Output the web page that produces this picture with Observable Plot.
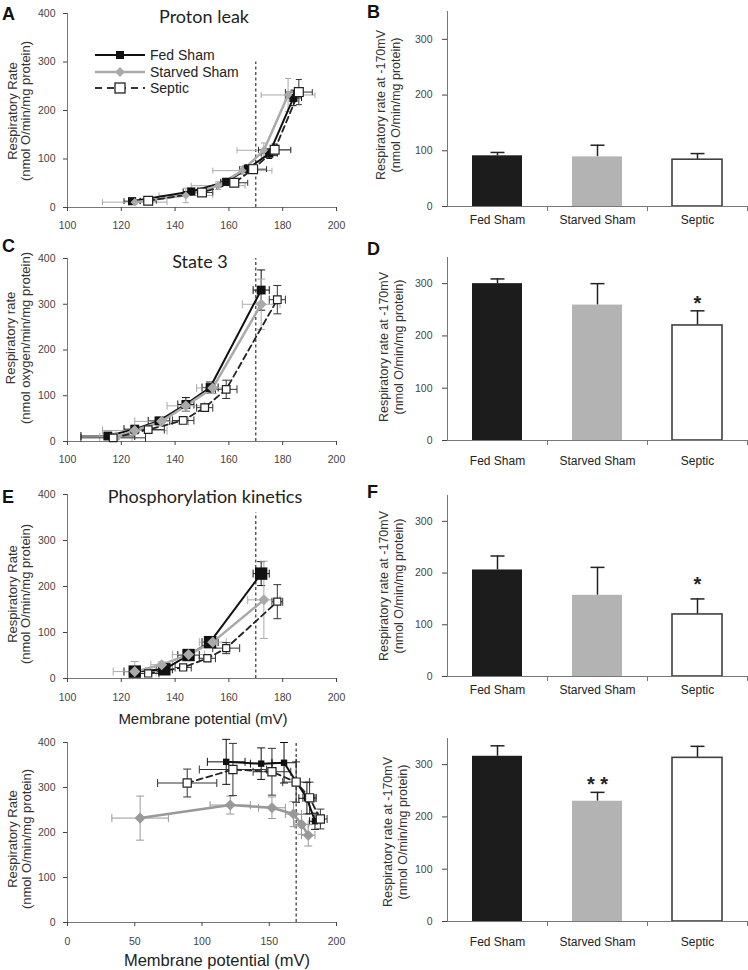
<!DOCTYPE html>
<html><head><meta charset="utf-8">
<script src="https://cdn.jsdelivr.net/npm/d3@7"></script>
<script src="https://cdn.jsdelivr.net/npm/@observablehq/plot@0.6"></script>
<style>
body{margin:0;background:#fff;}
#fig{position:relative;width:748px;height:970px;overflow:hidden;background:#fff;}
#over{position:absolute;left:0;top:0;pointer-events:none;}
</style></head><body><div id="fig"></div>
<script>
// ---------- data ----------
const groups = ["Fed Sham", "Starved Sham", "Septic"];

// Panel A – proton leak
const aFedX = [124, 146, 159, 167, 175, 184];
const aFedY = [13, 33, 53, 80, 111, 226];
const aFedXErr = [3, 3, 2, 2, 3, 3];
const aFedYErr = [5, 5, 6, 8, 10, 16];
const aStaX = [125, 144, 156, 165, 173, 182];
const aStaY = [11, 25, 45, 76, 118, 232];
const aStaXErr = [12, 10, 10, 11, 10, 10];
const aStaYErr = [4, 15, 8, 8, 15, 34];
const aSepX = [130, 150, 162, 169, 177, 186];
const aSepY = [14, 31, 51, 79, 119, 238];
const aSepXErr = [3, 4, 5, 5, 6, 5];
const aSepYErr = [3, 5, 6, 8, 12, 26];

// Panel C – state 3
const cFedX = [115, 125, 134, 144, 153, 172];
const cFedY = [12, 27, 45, 81, 118, 331];
const cFedXErr = [10, 4, 4, 3, 3, 3];
const cFedYErr = [5, 8, 8, 15, 12, 44];
const cStaX = [118, 125, 135, 144, 154, 172];
const cStaY = [10, 24, 44, 78, 117, 300];
const cStaXErr = [6, 12, 10, 7, 6, 7];
const cStaYErr = [6, 8, 10, 12, 12, 55];
const cSepX = [117, 130, 143, 151, 159, 178];
const cSepY = [8, 26, 46, 74, 114, 310];
const cSepXErr = [12, 6, 4, 3, 4, 3];
const cSepYErr = [4, 6, 6, 8, 20, 31];

// Panel E – phosphorylation kinetics
const eFedX = [125, 136, 145, 153, 172];
const eFedY = [15, 20, 51, 79, 228];
const eFedXErr = [4, 3, 4, 3, 3];
const eFedYErr = [5, 6, 8, 10, 26];
const eStaX = [125, 135, 145, 154, 173];
const eStaY = [15, 30, 52, 79, 171];
const eStaXErr = [8, 4, 6, 5, 6];
const eStaYErr = [22, 6, 8, 12, 84];
const eSepX = [130, 143, 152, 159, 178];
const eSepY = [11, 24, 44, 66, 167];
const eSepXErr = [4, 3, 3, 5, 2];
const eSepYErr = [3, 5, 6, 12, 37];

// Bottom-left panel
const gFedX = [118, 144, 161, 178, 184];
const gFedY = [357, 353, 355, 276, 225];
const gFedXErr = [14, 8, 9, 6, 4];
const gFedYErr = [50, 35, 45, 35, 18];
const gStaX = [54, 121, 152, 168, 174, 179];
const gStaY = [232, 261, 255, 241, 218, 194];
const gStaXErr = [21, 15, 10, 6, 5, 5];
const gStaYErr = [49, 20, 24, 28, 22, 24];
const gSepX = [89, 123, 152, 170, 180, 188];
const gSepY = [310, 340, 335, 312, 277, 230];
const gSepXErr = [22, 25, 14, 10, 5, 5];
const gSepYErr = [31, 58, 52, 45, 35, 22];

// reference line at -170 mV (x) and its top (y)
const refMV = 170;
const refTop = {A: 300, C: 400, E: 360, G: 400};

// Bar panels: respiratory rate at -170 mV
const bMean = [91, 89, 84],   bErr = [6, 21, 11],  bSig = ["", "", ""];
const dMean = [300, 259, 220], dErr = [9, 41, 28], dSig = ["", "", "*"];
const fMean = [206, 157, 120], fErr = [27, 54, 30], fSig = ["", "", "*"];
const hMean = [316, 230, 313], hErr = [20, 17, 22], hSig = ["", "* *", ""];

// ticks
const yTicksLeft = [0, 100, 200, 300, 400];
const xTicksMV = [100, 120, 140, 160, 180, 200];
const xTicksG = [0, 50, 100, 150, 200];
const yTicksBar = [0, 100, 200, 300];

// ---------- helpers ----------
const FONT = '"Liberation Sans", Arial, Helvetica, sans-serif';
const fig = document.getElementById("fig");
const capH = {draw(ctx, size){const h = Math.sqrt(size / Math.PI); ctx.moveTo(-h, 0); ctx.lineTo(h, 0);}};
const capV = {draw(ctx, size){const h = Math.sqrt(size / Math.PI); ctx.moveTo(0, -h); ctx.lineTo(0, h);}};

function pts(xs, ys, xe, ye){ return xs.map((x, i) => ({x, y: ys[i], xe: xe[i], ye: ye[i]})); }

function place(el, left, top){
  el.style.position = "absolute"; el.style.left = left + "px"; el.style.top = top + "px";
  fig.appendChild(el);
}

function errMarks(data, color, cap){
  const o = {stroke: color, strokeWidth: 1};
  const lo = d => Math.max(0, d.y - d.ye);
  return [
    Plot.link(data, {x1: d => d.x - d.xe, x2: d => d.x + d.xe, y1: "y", y2: "y", ...o}),
    Plot.link(data, {x1: "x", x2: "x", y1: lo, y2: d => d.y + d.ye, ...o}),
    Plot.dot(data, {x: d => d.x - d.xe, y: "y", symbol: capV, r: cap, fill: "none", ...o}),
    Plot.dot(data, {x: d => d.x + d.xe, y: "y", symbol: capV, r: cap, fill: "none", ...o}),
    Plot.dot(data.filter(d => d.y - d.ye > 0), {x: "x", y: d => d.y - d.ye, symbol: capH, r: cap, fill: "none", ...o}),
    Plot.dot(data, {x: "x", y: d => d.y + d.ye, symbol: capH, r: cap, fill: "none", ...o})
  ];
}

function linePanel(cfg){
  const marks = [];
  marks.push(Plot.ruleY([0], {stroke: "#777"}));
  marks.push(Plot.ruleX([cfg.xDomain[0]], {stroke: "#777"}));
  marks.push(Plot.axisX({ticks: cfg.xTicks, tickSize: 4, tickPadding: cfg.tickPad, color: "#444", fontSize: 10.5, label: null}));
  marks.push(Plot.axisY({ticks: yTicksLeft, tickSize: 4, tickPadding: 8, color: "#444", fontSize: 10.5, label: null}));
  marks.push(Plot.ruleX([refMV], {y1: 0, y2: cfg.refTop, stroke: "#222", strokeWidth: 1.1, strokeDasharray: "3,2.5"}));
  cfg.series.forEach(s => marks.push(...errMarks(s.data, s.err, s.cap)));
  cfg.series.forEach(s => marks.push(Plot.line(s.data, {x: "x", y: "y", stroke: s.line, strokeWidth: s.lw, strokeDasharray: s.dash})));
  cfg.series.forEach(s => marks.push(Plot.dot(s.data, {x: "x", y: "y", symbol: s.symbol, r: s.r, fill: s.fill, stroke: s.stroke, strokeWidth: s.sw})));
  const el = Plot.plot({
    width: 350, height: cfg.height,
    marginLeft: 67, marginRight: 14, marginTop: cfg.mT, marginBottom: cfg.mB,
    x: {domain: cfg.xDomain}, y: {domain: [0, 400]},
    style: {fontFamily: FONT, fontSize: "10.5px", background: "none", overflow: "visible"},
    marks
  });
  place(el, 0, cfg.top);
}

function series(fed, sta, sep, sz, staCol){
  return [
    {data: fed, err: "#111", cap: sz.cap, line: "#111", lw: 2, dash: null, symbol: "square", r: sz.fed, fill: "#111", stroke: "none", sw: 0},
    {data: sta, err: staCol, cap: sz.cap, line: staCol, lw: 2.5, dash: null, symbol: "diamond2", r: sz.sta, fill: staCol, stroke: "none", sw: 0},
    {data: sep, err: "#333", cap: sz.cap, line: "#222", lw: 1.8, dash: "6,4", symbol: "square", r: sz.sep, fill: "#fff", stroke: "#222", sw: 1.2}
  ];
}

const barFill = ["#1c1c1c", "#b3b3b3", "#ffffff"];
const barStroke = ["none", "none", "#404040"];

function barPanel(cfg){
  const data = groups.map((g, i) => ({group: g, value: cfg.mean[i], err: cfg.err[i], sig: cfg.sig[i], fill: barFill[i], stroke: barStroke[i]}));
  const el = Plot.plot({
    width: 398, height: cfg.height,
    marginLeft: 97, marginRight: 1, marginTop: cfg.mT, marginBottom: cfg.mB,
    x: {domain: groups, paddingInner: 0.5, paddingOuter: 0.25},
    y: {domain: [0, 350]},
    style: {fontFamily: FONT, fontSize: "10.5px", background: "none", overflow: "visible"},
    marks: [
      Plot.ruleX(data, {x: "group", y1: "value", y2: d => d.value + d.err, stroke: "#222", strokeWidth: 1.5}),
      Plot.dot(data, {x: "group", y: d => d.value + d.err, symbol: capH, r: 7, stroke: "#222", strokeWidth: 1.5, fill: "none"}),
      Plot.barY(data, {x: "group", y: "value", fill: d => d.fill, stroke: d => d.stroke, strokeWidth: 1.6, inset: 0}),
      Plot.text(data, {x: "group", y: d => d.value + d.err, text: "sig", dy: cfg.sigDy, lineAnchor: "bottom", fontSize: 20, fontWeight: "bold", fill: "#222"}),
      Plot.frame({anchor: "left", stroke: "#777"}),
      Plot.ruleY([0], {stroke: "#777"}),
      Plot.axisY({ticks: yTicksBar, tickSize: 5, tickPadding: 10, color: "#444", fontSize: 10.5, label: null}),
      Plot.axisX({tickSize: 5, tickFormat: () => "", dx: 50, color: "#777", label: null}),
      Plot.axisX({tickSize: 0, tickPadding: cfg.labPad, color: "#222", fontSize: 12, label: null})
    ]
  });
  place(el, 350, cfg.top);
}

// ---------- left panels ----------
linePanel({top: 0, height: 240, mT: 13, mB: 33, tickPad: 10, xDomain: [100, 200], xTicks: xTicksMV, refTop: refTop.A,
  series: series(pts(aFedX, aFedY, aFedXErr, aFedYErr), pts(aStaX, aStaY, aStaXErr, aStaYErr), pts(aSepX, aSepY, aSepXErr, aSepYErr), {fed: 4.6, sta: 3.8, sep: 5, cap: 3}, "#aaaaaa")});
linePanel({top: 232, height: 240, mT: 26, mB: 31, tickPad: 10, xDomain: [100, 200], xTicks: xTicksMV, refTop: refTop.C,
  series: series(pts(cFedX, cFedY, cFedXErr, cFedYErr), pts(cStaX, cStaY, cStaXErr, cStaYErr), pts(cSepX, cSepY, cSepXErr, cSepYErr), {fed: 5, sta: 5, sep: 4.3, cap: 4}, "#aaaaaa")});
linePanel({top: 472, height: 258, mT: 22, mB: 52, tickPad: 11, xDomain: [100, 200], xTicks: xTicksMV, refTop: refTop.E,
  series: series(pts(eFedX, eFedY, eFedXErr, eFedYErr), pts(eStaX, eStaY, eStaXErr, eStaYErr), pts(eSepX, eSepY, eSepXErr, eSepYErr), {fed: 7, sta: 5, sep: 4, cap: 4}, "#aaaaaa")});
linePanel({top: 730, height: 240, mT: 12, mB: 48, tickPad: 11, xDomain: [0, 200], xTicks: xTicksG, refTop: refTop.G,
  series: series(pts(gFedX, gFedY, gFedXErr, gFedYErr), pts(gStaX, gStaY, gStaXErr, gStaYErr), pts(gSepX, gSepY, gSepXErr, gSepYErr), {fed: 3.6, sta: 5, sep: 4.6, cap: 4}, "#999999")});

// ---------- right panels ----------
barPanel({top: 0, height: 240, mT: 11, mB: 34, labPad: 9, mean: bMean, err: bErr, sig: bSig, sigDy: -1});
barPanel({top: 240, height: 232, mT: 17, mB: 32, labPad: 16, mean: dMean, err: dErr, sig: dSig, sigDy: -1});
barPanel({top: 472, height: 232, mT: 23, mB: 28, labPad: 9, mean: fMean, err: fErr, sig: fSig, sigDy: -8});
barPanel({top: 704, height: 266, mT: 34, mB: 49, labPad: 16, mean: hMean, err: hErr, sig: hSig, sigDy: -1});

// ---------- annotations: letters, titles, axis titles, legend ----------
const NS = "http://www.w3.org/2000/svg";
const over = document.createElementNS(NS, "svg");
over.setAttribute("id", "over"); over.setAttribute("width", 748); over.setAttribute("height", 970);
fig.appendChild(over);
function add(tag, attrs, text){
  const e = document.createElementNS(NS, tag);
  for (const k in attrs) e.setAttribute(k, attrs[k]);
  if (text != null) e.textContent = text;
  over.appendChild(e); return e;
}
// panel letters
[["A", 2, 20], ["B", 367, 18], ["C", 2, 252], ["D", 367, 255], ["E", 2, 503], ["F", 367, 498]].forEach(([t, x, y]) =>
  add("text", {x, y, "font-family": FONT, "font-size": 18, "font-weight": "bold", fill: "#111"}, t));
// titles
const TF = 'Lato, "Open Sans", "Noto Sans", sans-serif';
add("text", {x: 204, y: 23, "text-anchor": "middle", "font-family": TF, "font-size": 18, fill: "#222"}, "Proton leak");
add("text", {x: 200, y: 268, "text-anchor": "middle", "font-family": TF, "font-size": 18, fill: "#222"}, "State 3");
add("text", {x: 205, y: 503, "text-anchor": "middle", "font-family": TF, "font-size": 18, fill: "#222"}, "Phosphorylation kinetics");
// x-axis titles
add("text", {x: 203, y: 724, "text-anchor": "middle", "font-family": FONT, "font-size": 15, fill: "#222"}, "Membrane potential (mV)");
add("text", {x: 217, y: 966, "text-anchor": "middle", "font-family": FONT, "font-size": 16.5, fill: "#222"}, "Membrane potential (mV)");
// rotated y-axis titles
function ylab(b1, b2, cy, l1, l2, fs){
  add("text", {transform: `translate(${b1},${cy}) rotate(-90)`, "text-anchor": "middle", "font-family": FONT, "font-size": fs, fill: "#333"}, l1);
  add("text", {transform: `translate(${b2},${cy}) rotate(-90)`, "text-anchor": "middle", "font-family": FONT, "font-size": fs, fill: "#333"}, l2);
}
ylab(16.5, 29.5, 111, "Respiratory Rate", "(nmol O/min/mg protein)", 13);
ylab(14.5, 29.5, 338, "Respiratory rate", "(nmol oxygen/min/mg protein)", 13);
ylab(16.5, 29.5, 594, "Respiratory Rate", "(nmol O/min/mg protein)", 13);
ylab(16.5, 30.5, 839, "Respiratory Rate", "(nmol O/min/mg protein)", 13);
ylab(384.5, 399.5, 105, "Respiratory rate at -170mV", "(nmol O/min/mg protein)", 12.5);
ylab(387.5, 402.5, 347, "Respiratory rate at -170mV", "(nmol O/min/mg protein)", 12.5);
ylab(387.5, 402.5, 586, "Respiratory rate at -170mV", "(nmol O/min/mg protein)", 12.5);
ylab(391.5, 406.5, 832, "Respiratory rate at -170mV", "(nmol O/min/mg protein)", 12.5);
// legend (panel A)
add("line", {x1: 95, x2: 145, y1: 55, y2: 55, stroke: "#111", "stroke-width": 2});
add("rect", {x: 116, y: 51, width: 8, height: 8, fill: "#111"});
add("text", {x: 150, y: 60, "font-family": FONT, "font-size": 14, fill: "#222"}, groups[0]);
add("line", {x1: 95, x2: 145, y1: 72, y2: 72, stroke: "#aaa", "stroke-width": 2.5});
add("polygon", {points: "120,67 125,72 120,77 115,72", fill: "#aaa"});
add("text", {x: 150, y: 77, "font-family": FONT, "font-size": 14, fill: "#222"}, groups[1]);
add("line", {x1: 95, x2: 145, y1: 88, y2: 88, stroke: "#333", "stroke-width": 1.8, "stroke-dasharray": "7,5"});
add("rect", {x: 115, y: 83, width: 10, height: 10, fill: "#fff", stroke: "#222", "stroke-width": 1.3});
add("text", {x: 150, y: 93, "font-family": FONT, "font-size": 14, fill: "#222"}, groups[2]);
</script></body></html>
